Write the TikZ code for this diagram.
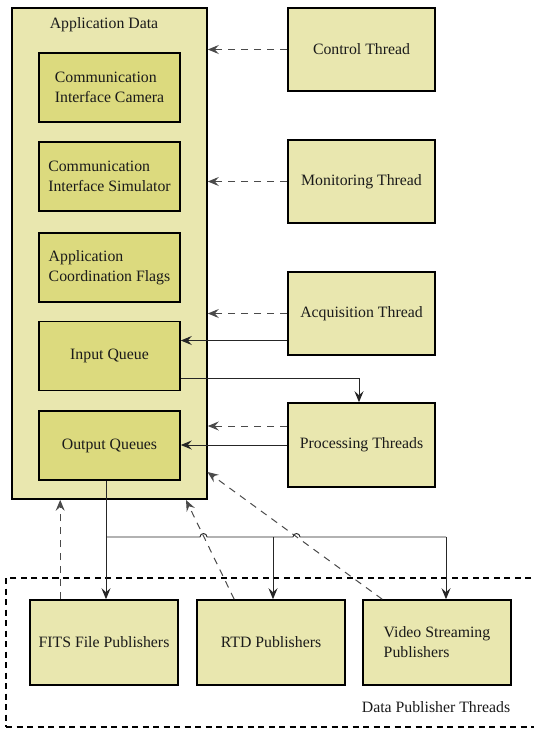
\documentclass[tikz,border=0pt]{standalone}
\usepackage{fontspec}
\setmainfont{Liberation Serif}
\usetikzlibrary{arrows.meta,calc}

\definecolor{outerfill}{HTML}{E9E7AF}
\definecolor{innerfill}{HTML}{DCDA7E}
\definecolor{linkgray}{HTML}{4A4A4A}
\definecolor{textdark}{HTML}{1A1A1A}

\tikzset{
  every node/.style={font=\fontsize{15.8}{20}\selectfont, text=textdark},
  appbox/.style={draw=black, line width=1.6pt, fill=outerfill},
  innerbox/.style={draw=black, line width=1.6pt, fill=innerfill,
    minimum width=141pt, minimum height=69pt, align=left},
  threadbox/.style={draw=black, line width=1.6pt, fill=outerfill,
    minimum width=147pt, minimum height=83pt, align=left},
  pubbox/.style={draw=black, line width=1.6pt, fill=outerfill,
    minimum width=148pt, minimum height=85pt, align=left},
  tip/.style={-{Stealth[length=11pt,width=9pt,inset=4pt]}},
  dasharrow/.style={tip, draw=linkgray, line width=1pt, dash pattern=on 7pt off 6pt},
  solidarrow/.style={tip, draw=black!85, line width=0.9pt},
  solidline/.style={draw=black!85, line width=0.9pt},
  groupframe/.style={draw=black, line width=1.2pt, dash pattern=on 6pt off 4.5pt}
}

\begin{document}
\begin{tikzpicture}[x=1pt, y=-1pt]
\useasboundingbox[fill=white] (0,0) rectangle (534,732);

% shared application data with its members
\node[appbox, minimum width=195pt, minimum height=491pt] (app) at (109.5,253.5) {};
\node (apptitle) at (104,25) {Application Data};
\node[innerbox] (cam)   at (109.5,87.5)  {Communication\\Interface Camera};
\node[innerbox] (sim)   at (109.5,176.5) {Communication\\Interface Simulator};
\node[innerbox] (flags) at (109.5,267.5) {Application\\Coordination Flags};
\node[innerbox] (inq)   at (109.5,356)   {Input Queue};
\node[innerbox] (outq)  at (109.5,445.5) {Output Queues};

% worker threads
\node[threadbox] (ctrl) at (361.5,49.5)  {Control Thread};
\node[threadbox] (mon)  at (361.5,181.5) {Monitoring Thread};
\node[threadbox] (acq)  at (361.5,313.5) {Acquisition Thread};
\node[threadbox, minimum height=84pt] (proc) at (361.5,445) {Processing Threads};

% publisher group
\node[groupframe, minimum width=566pt, minimum height=149pt] (pubgroup) at (289,652.5) {};
\node (grouptitle) at (436,707) {Data Publisher Threads};
\node[pubbox] (fits) at (104,642.5) {FITS File Publishers};
\node[pubbox] (rtd)  at (271,642.5) {RTD Publishers};
\node[pubbox] (vid)  at (437,642.5) {Video Streaming\\Publishers};

% thread access to the application data
\draw[dasharrow] (ctrl.west) -- (ctrl.west -| app.east);
\draw[dasharrow] (mon.west) -- (mon.west -| app.east);
\draw[dasharrow] (acq.west) -- (acq.west -| app.east);
\draw[solidarrow] ($(acq.west)+(0,27)$) coordinate (acqout) -- (acqout -| inq.east);

% input queue feeds the processing threads
\coordinate (inqout) at ($(inq.east)+(0,22)$);
\coordinate (procin) at ($(proc.north)+(-2.5,0)$);
\draw[solidarrow] (inqout) -- (inqout -| procin) -- (procin);

\draw[dasharrow] ($(proc.west)+(0,-19)$) coordinate (procdash) -- (procdash -| app.east);
\draw[solidarrow] (proc.west) -- (proc.west -| outq.east);

% output queues distributed to the publishers
\coordinate (oqout) at ($(outq.south)+(-3.5,0)$);
\coordinate (bus) at (oqout |- 0,537);
\coordinate (rtdin) at ($(rtd.north)+(2,0)$);
\coordinate (vidin) at ($(vid.north)+(9,0)$);
\draw[solidarrow] (oqout) -- (oqout |- fits.north);
\draw[solidline] (bus) -- (200,537) arc[start angle=180, end angle=0, radius=3.5pt]
  -- (293,537) arc[start angle=180, end angle=0, radius=3.5pt] -- (bus -| vidin);
\draw[solidarrow] (rtdin |- bus) -- (rtdin);
\draw[solidarrow] (vidin |- bus) -- (vidin);

% publishers read the application data
\draw[dasharrow] ($(fits.north west)+(31,0)$) coordinate (fitsread) -- (fitsread |- app.south);
\draw[dasharrow] ($(rtd.north west)+(38,0)$) -- (186,500);
\draw[dasharrow] ($(vid.north west)+(20,0)$) -- (207.5,472);
\end{tikzpicture}
\end{document}
